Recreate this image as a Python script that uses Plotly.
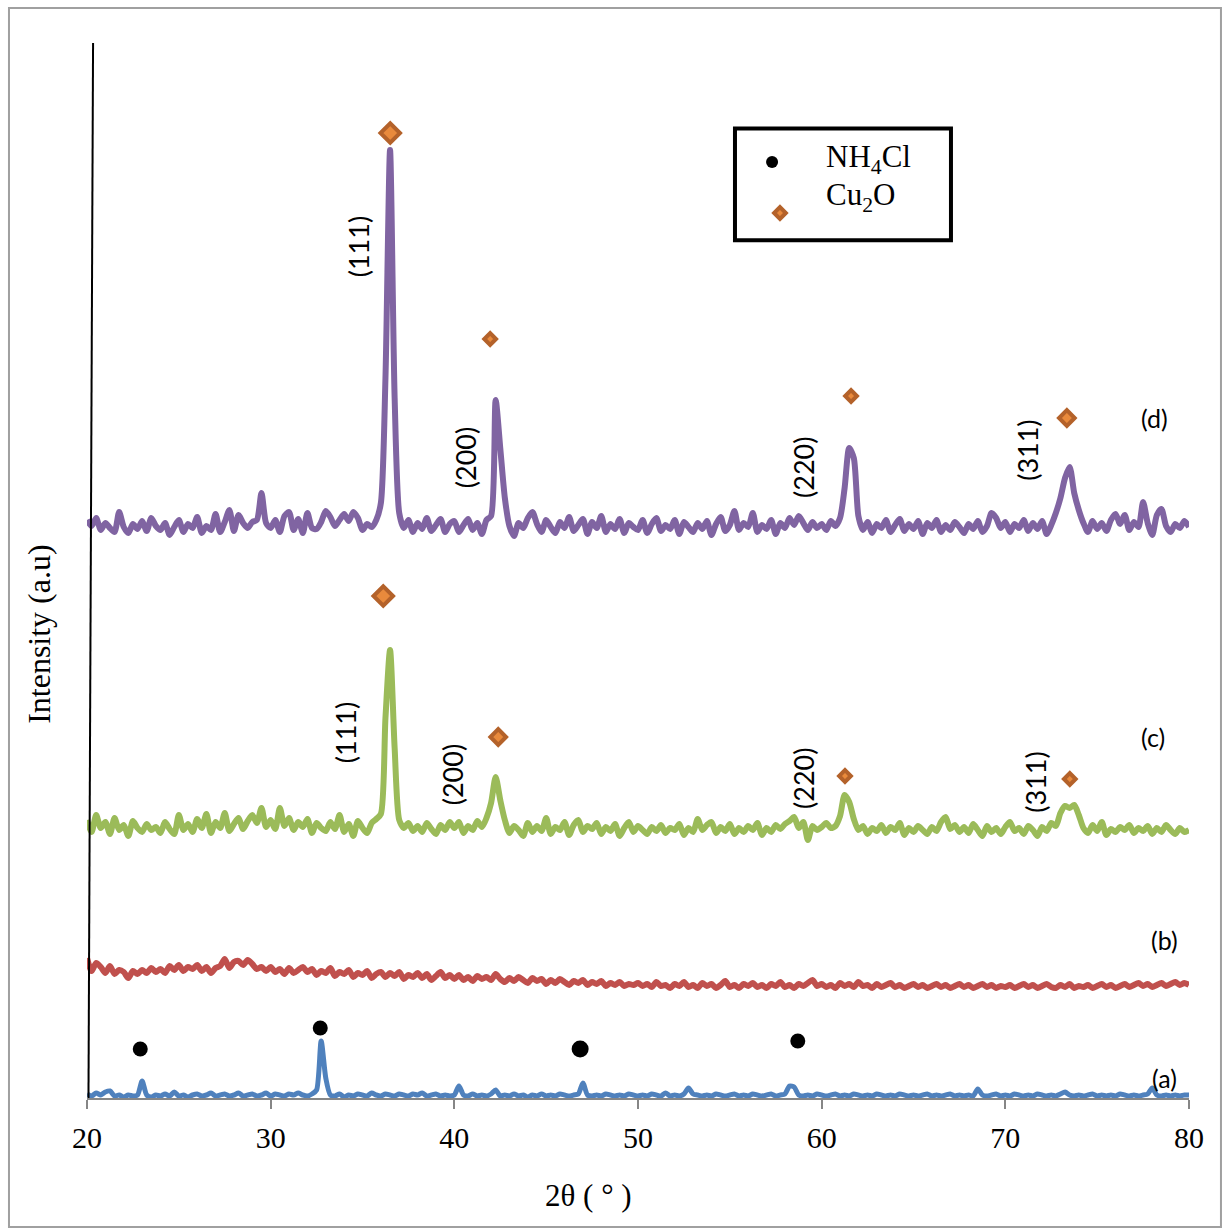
import numpy as np
import plotly.graph_objects as go

# 2-theta grid (degrees)
two_theta = np.round(np.arange(20.0, 80.0001, 0.25), 2)

# Intensities (arbitrary units, already stacked with offsets as drawn)
a_vals = [
    4, 2, 5, 3, 6, 7, 2, 3, 1, 3, 2, 3, 17, 3, 1, 3, 2, 4, 2, 6, 2, 3, 1, 3, 4, 2, 3, 5, 2, 3, 4, 2, 3, 5, 2, 3, 4, 2, 3, 5,
    2, 4, 3, 2, 4, 3, 5, 3, 2, 4, 8, 57, 20, 3, 2, 4, 1, 3, 2, 4, 3, 2, 5, 3, 2, 4, 3, 2, 4, 3, 2, 4, 3, 5, 2, 3, 4, 2, 3, 2,
    3, 12, 3, 2, 4, 2, 3, 2, 4, 8, 2, 3, 2, 4, 2, 3, 1, 3, 2, 4, 2, 3, 2, 4, 3, 2, 3, 4, 15, 3, 2, 3, 2, 4, 3, 2, 3, 2, 4, 3,
    2, 3, 2, 4, 3, 2, 5, 2, 3, 2, 4, 10, 4, 3, 2, 3, 2, 4, 3, 2, 3, 4, 2, 3, 2, 4, 3, 2, 3, 4, 2, 3, 4, 12, 11, 3, 2, 3, 2, 4,
    3, 2, 3, 4, 2, 3, 2, 4, 3, 2, 3, 2, 4, 3, 2, 3, 2, 4, 3, 2, 3, 2, 3, 4, 2, 3, 2, 3, 4, 2, 3, 2, 3, 2, 9, 3, 2, 3, 4, 2,
    3, 2, 4, 3, 2, 3, 2, 4, 3, 2, 3, 2, 4, 6, 3, 2, 3, 2, 3, 4, 2, 3, 2, 3, 2, 4, 3, 2, 3, 2, 3, 4, 10, 3, 2, 3, 2, 3, 2, 3, 3,
]
b_vals = [
    140, 127, 135, 131, 125, 132, 124, 128, 126, 120, 127, 124, 128, 125, 130, 126, 129, 125, 132, 128,
    133, 127, 131, 129, 133, 127, 131, 125, 130, 132, 139, 130, 136, 137, 133, 138, 134, 129, 131, 127,
    131, 126, 129, 124, 130, 125, 128, 131, 126, 129, 123, 127, 125, 130, 122, 126, 124, 128, 121, 125,
    123, 127, 120, 124, 126, 121, 125, 122, 126, 119, 123, 121, 125, 120, 124, 118, 122, 126, 120, 123,
    119, 123, 118, 121, 117, 122, 119, 121, 118, 124, 119, 116, 120, 117, 121, 118, 115, 120, 117, 119,
    114, 118, 115, 119, 116, 113, 117, 115, 118, 113, 116, 114, 117, 112, 115, 113, 116, 112, 114, 113,
    115, 112, 114, 111, 116, 112, 113, 110, 114, 112, 116, 111, 113, 110, 115, 112, 114, 110, 113, 117,
    111, 113, 110, 114, 112, 115, 111, 113, 110, 114, 112, 116, 111, 113, 110, 114, 112, 115, 118, 112,
    114, 111, 113, 110, 115, 112, 114, 111, 116, 112, 113, 110, 114, 111, 113, 115, 111, 113, 110, 112,
    114, 111, 113, 110, 112, 114, 111, 113, 110, 112, 114, 111, 113, 110, 112, 114, 111, 113, 110, 112,
    111, 113, 110, 112, 114, 111, 113, 110, 112, 114, 111, 110, 113, 111, 114, 110, 112, 111, 113, 110,
    112, 114, 111, 113, 110, 112, 114, 111, 113, 115, 112, 114, 111, 113, 115, 112, 114, 116, 113, 115, 113,
]
c_vals = [
    278, 266, 283, 270, 276, 264, 280, 268, 273, 262, 277, 270, 266, 274, 268, 271, 265, 276, 269, 264,
    283, 268, 274, 266, 279, 270, 284, 265, 276, 270, 285, 267, 274, 280, 269, 277, 283, 275, 290, 271,
    278, 269, 290, 272, 280, 268, 276, 271, 279, 265, 275, 270, 267, 276, 269, 283, 266, 274, 262, 277,
    270, 265, 275, 279, 284, 380, 448, 350, 278, 270, 275, 267, 272, 266, 275, 269, 264, 273, 268, 276,
    270, 276, 265, 272, 268, 277, 271, 280, 295, 321, 298, 278, 265, 272, 268, 262, 275, 266, 272, 267,
    280, 264, 271, 268, 276, 263, 273, 278, 266, 272, 269, 275, 264, 271, 267, 274, 262, 270, 276, 266,
    272, 268, 264, 271, 267, 273, 265, 270, 268, 274, 263, 270, 266, 279, 268, 273, 276, 265, 271, 267,
    274, 264, 270, 266, 272, 268, 275, 263, 270, 266, 273, 269, 274, 277, 281, 270, 276, 258, 272, 268,
    271, 275, 270, 272, 282, 303, 296, 279, 268, 272, 264, 270, 267, 273, 265, 271, 268, 275, 263, 270,
    266, 272, 268, 264, 271, 267, 276, 281, 269, 273, 266, 271, 265, 274, 268, 262, 272, 266, 270, 264,
    271, 276, 267, 270, 264, 272, 268, 262, 271, 267, 275, 272, 285, 292, 290, 293, 283, 270, 265, 273,
    267, 276, 263, 269, 266, 271, 268, 273, 265, 270, 267, 272, 264, 270, 266, 273, 268, 264, 270, 266, 268,
]
d_vals = [
    578, 572, 580, 568, 575, 570, 566, 586, 571, 565, 574, 569, 577, 567, 580, 572, 568, 575, 563, 571,
    578, 566, 574, 570, 581, 565, 572, 568, 584, 566, 576, 588, 567, 583, 575, 570, 576, 578, 605, 575,
    570, 578, 566, 582, 586, 568, 579, 565, 585, 570, 569, 576, 587, 581, 572, 578, 584, 577, 586, 580,
    568, 574, 571, 578, 595, 720, 948, 700, 585, 570, 578, 566, 575, 569, 580, 567, 573, 579, 566, 574,
    577, 566, 573, 579, 568, 575, 564, 578, 582, 698, 650, 600, 572, 562, 575, 570, 580, 586, 574, 566,
    578, 571, 565, 576, 570, 581, 567, 573, 579, 564, 576, 570, 582, 566, 574, 569, 579, 565, 575, 571,
    568, 578, 565, 574, 580, 567, 573, 569, 578, 564, 576, 571, 566, 575, 569, 577, 563, 574, 581, 567,
    573, 587, 568, 575, 571, 585, 566, 573, 569, 578, 564, 575, 570, 580, 573, 582, 575, 568, 576, 570,
    574, 568, 577, 572, 580, 610, 650, 640, 582, 568, 576, 565, 574, 570, 578, 566, 573, 579, 567, 574,
    569, 577, 564, 575, 570, 578, 566, 573, 568, 576, 571, 565, 574, 569, 577, 566, 572, 585, 580, 570,
    576, 566, 574, 570, 578, 567, 575, 569, 577, 564, 573, 585, 600, 620, 631, 605, 588, 575, 566, 577,
    569, 575, 567, 578, 584, 574, 583, 568, 576, 571, 596, 575, 563, 583, 589, 572, 566, 574, 570, 577, 571,
]

series_names = ["(a)", "(b)", "(c)", "(d)"]
series_colors = ["#4F81BD", "#C0504D", "#9BBB59", "#8064A2"]
series_widths = [5, 6, 6, 6]

# Phase markers
nh4cl_x = [22.9, 32.7, 46.85, 58.7]
nh4cl_y = [49, 70, 49, 57]
nh4cl_size = [15, 15, 17, 15]

cu2o_c_x = [36.13, 42.39, 61.27, 73.51]
cu2o_c_y = [502, 361, 322, 319]
cu2o_c_size = [15, 12, 9, 9]
cu2o_d_x = [36.51, 41.95, 61.6, 73.35]
cu2o_d_y = [965, 759, 702, 680]
cu2o_d_size = [15, 9, 9, 12]

# hkl labels
hkl_text = ["(111)", "(200)", "(220)", "(311)"]
hkl_c_x = [34.06, 39.89, 58.98, 71.6]
hkl_c_y = [365, 323, 320, 316]
hkl_d_x = [34.77, 40.59, 58.98, 71.17]
hkl_d_y = [851, 640, 631, 648]

label_x = [78.68, 78.68, 78.03, 78.14]
label_y = [20, 158, 361, 680]

DIAMOND_FILL = "#E98A3C"
DIAMOND_EDGE = "#B4622A"

fig = go.Figure()
for vals, name, col, w in zip([a_vals, b_vals, c_vals, d_vals], series_names, series_colors, series_widths):
    fig.add_trace(go.Scatter(x=two_theta, y=vals, mode="lines", name=name,
                             line=dict(color=col, width=w, shape="spline", smoothing=0.7),
                             showlegend=False))

fig.add_trace(go.Scatter(x=nh4cl_x, y=nh4cl_y, mode="markers", showlegend=False,
                         marker=dict(symbol="circle", color="#000000", size=nh4cl_size, opacity=1,
                                     line=dict(width=0))))
for xs, ys, ss in [(cu2o_c_x, cu2o_c_y, cu2o_c_size), (cu2o_d_x, cu2o_d_y, cu2o_d_size)]:
    fig.add_trace(go.Scatter(x=xs, y=ys, mode="markers", showlegend=False,
                             marker=dict(symbol="diamond", color=DIAMOND_FILL, size=ss, opacity=1,
                                         line=dict(color=DIAMOND_EDGE, width=4))))

# legend keys
fig.add_trace(go.Scatter(x=[57.3], y=[936], mode="markers", showlegend=False,
                         marker=dict(symbol="circle", color="#000000", size=12, opacity=1,
                                     line=dict(width=0))))
fig.add_trace(go.Scatter(x=[57.73], y=[885], mode="markers", showlegend=False,
                         marker=dict(symbol="diamond", color=DIAMOND_FILL, size=9, opacity=1,
                                     line=dict(color=DIAMOND_EDGE, width=4))))

ann = []
lab_font = dict(family="Lato, Carlito, sans-serif", size=27, color="black")
for xs, ys in [(hkl_c_x, hkl_c_y), (hkl_d_x, hkl_d_y)]:
    for t, x, y in zip(hkl_text, xs, ys):
        ann.append(dict(x=x, y=y, xref="x", yref="y", text=t, textangle=-90,
                        showarrow=False, font=lab_font))
for t, x, y in zip(series_names, label_x, label_y):
    ann.append(dict(x=x, y=y, xref="x", yref="y", text=t, showarrow=False,
                    font=dict(family="Lato, Carlito, sans-serif", size=25, color="black")))

serif = "Liberation Serif, Times New Roman, serif"
ann.append(dict(x=60.15, y=939, xref="x", yref="y", text="NH<sub>4</sub>Cl", xanchor="left",
                yanchor="middle", showarrow=False, font=dict(family=serif, size=31, color="black")))
ann.append(dict(x=60.15, y=901, xref="x", yref="y", text="Cu<sub>2</sub>O", xanchor="left",
                yanchor="middle", showarrow=False, font=dict(family=serif, size=31, color="black")))
# axis titles
ann.append(dict(x=0.455, y=-0.092, xref="paper", yref="paper", text="2θ ( ° )",
                xanchor="center", yanchor="middle",
                showarrow=False, font=dict(family=serif, size=31, color="black")))
ann.append(dict(x=-0.0435, y=0.44, xref="paper", yref="paper", text="Intensity (a.u)", textangle=-90,
                xanchor="center", yanchor="middle",
                showarrow=False, font=dict(family=serif, size=32, color="black")))

shapes = [
    # outer frame
    dict(type="rect", xref="paper", yref="paper", x0=-0.0708, x1=1.029, y0=-0.1223, y1=1.0332,
         line=dict(color="#A0A0A0", width=2), layer="below"),
    # vertical axis line (slightly slanted as drawn)
    dict(type="line", xref="x", yref="paper", x0=20.08, x1=20.33, y0=0, y1=1,
         line=dict(color="black", width=2)),
    # legend box
    dict(type="rect", xref="paper", yref="paper", x0=0.588, x1=0.784, y0=0.813, y1=0.919,
         line=dict(color="black", width=4)),
]

fig.update_layout(
    width=1223, height=1228,
    margin=dict(l=87, r=34, t=43, b=130),
    paper_bgcolor="white", plot_bgcolor="white",
    annotations=ann, shapes=shapes,
    xaxis=dict(range=[20, 80], dtick=10, tick0=20, showgrid=False, zeroline=False,
               showline=True, linecolor="#868686", linewidth=2,
               ticks="outside", ticklen=9, tickwidth=2, tickcolor="#868686",
               ticklabelstandoff=3,
               tickfont=dict(family=serif, size=30, color="black")),
    yaxis=dict(range=[0, 1055], visible=False),
)

fig.write_html("out.html", config={"displayModeBar": False},
               post_script="document.body.style.margin='0';")
